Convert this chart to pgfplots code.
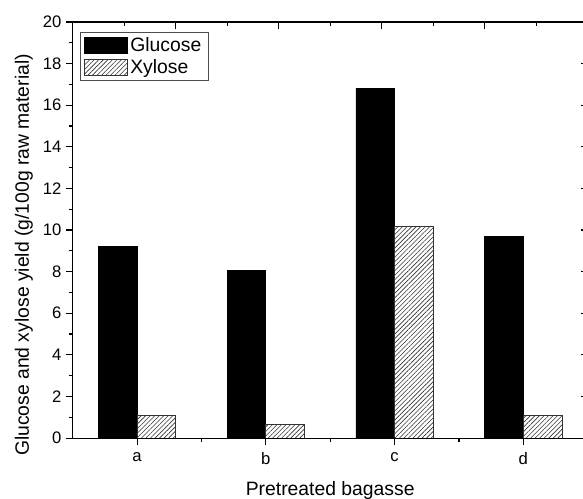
\documentclass[border=0pt]{standalone}
\usepackage{fontspec}
\setmainfont{Liberation Sans}
\usepackage{pgfplots}
\usepackage{pgfplotstable}
\pgfplotsset{compat=1.18}
\usetikzlibrary{patterns.meta}

% sugar yields per pretreated bagasse sample (a-d at x = 1..4)
\pgfplotstableread{
cat glucose xylose
1 9.23  1.07
2 8.04  0.67
3 16.81 10.16
4 9.68  1.07
}\yields

\pgfplotsset{
  frame/.style={
    scale only axis, width=386.25pt, height=312pt,
    xmin=0.5, xmax=4.5, ymin=0, ymax=20,
    axis line style={line width=0.8pt},
    major tick length=5pt, minor tick length=3pt,
    every tick/.style={black, line width=0.8pt},
  },
  swatch/.style={legend image code/.code={\draw[##1] (0pt,-6pt) rectangle (32pt,6pt);}},
}

\begin{document}
\begin{tikzpicture}
\begin{axis}[frame, name=ax,
  xtick={1,2,3,4}, xticklabels={a,b,c,d},
  minor xtick={1.5,2.5,3.5},
  ytick={0,2,...,20}, minor ytick={1,3,...,19},
  xtick pos=bottom, ytick pos=left, tick align=outside,
  tick label style={font=\fontsize{12.5}{14}\selectfont},
  xticklabel style={yshift=-2pt},
  /pgf/number format/assume math mode=true,
  xlabel={Pretreated bagasse},
  ylabel={Glucose and xylose yield (g/100g raw material)},
  every axis x label/.style={at={(axis description cs:0.5,-0.137)}, anchor=base},
  every axis y label/.style={at={(axis description cs:-0.0849,0.44)}, rotate=90, anchor=base},
  label style={font=\fontsize{14.5}{17}\selectfont},
  legend style={at={(0,1)}, anchor=north west, xshift=5.5pt, yshift=-7.5pt,
    draw=black!70, line width=0.5pt, font=\fontsize{14.5}{16}\selectfont,
    inner xsep=3pt, inner ysep=1.5pt, row sep=1pt, cells={anchor=west}},
]
\addplot[ybar, bar width=0.3, bar shift=-0.15, fill=black, draw=black, line width=0.5pt, swatch]
  table[x=cat, y=glucose] {\yields};
\addplot[ybar, bar width=0.3, bar shift=0.15, draw=black!80, line width=0.5pt,
  pattern={Lines[angle=45, distance=2.4pt, line width=0.45pt]}, pattern color=black!80, swatch]
  table[x=cat, y=xylose] {\yields};
\legend{Glucose, Xylose}
\end{axis}
% mirrored top and right axes with their own inward ticks
\begin{axis}[frame,
  xtick={0.5,1.3,2.1,2.9,3.7,4.5}, minor x tick num=1,
  ytick={0,2,...,20}, minor y tick num=1,
  xtick pos=top, ytick pos=right, tick align=inside,
  xticklabels={}, yticklabels={},
]
\end{axis}
\pgfresetboundingbox
\useasboundingbox ([xshift=-54.5pt,yshift=-45pt]ax.south west)
  rectangle ([xshift=382.7pt,yshift=328.5pt]ax.south west);
\end{tikzpicture}
\end{document}
